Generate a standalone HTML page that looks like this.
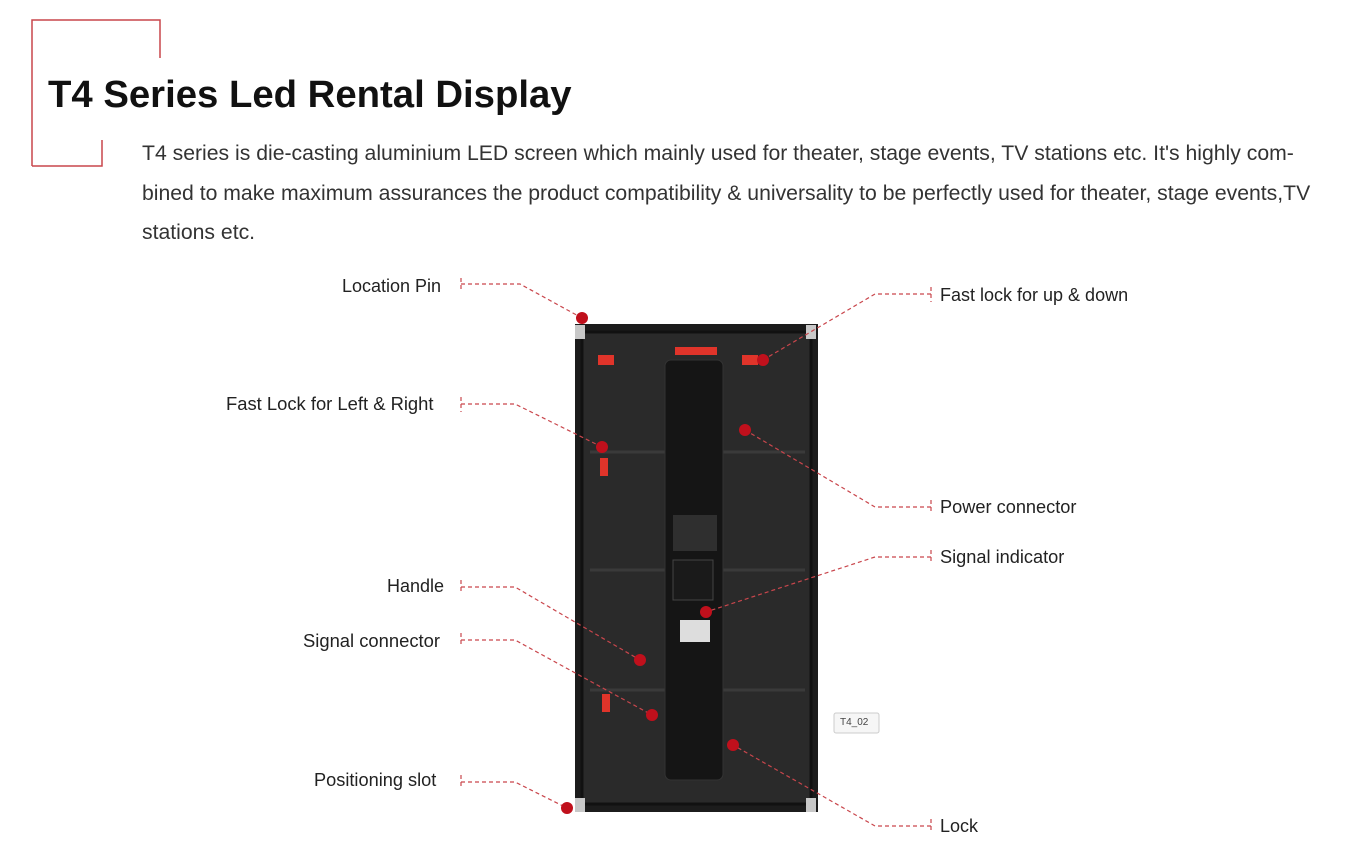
<!DOCTYPE html>
<html><head><meta charset="utf-8"><style>
body{margin:0;width:1368px;height:859px;background:#fff;overflow:hidden;position:relative;font-family:"Liberation Sans",sans-serif}
.t{position:absolute;white-space:nowrap;color:#222}
</style></head><body>
<svg width="1368" height="859" style="position:absolute;left:0;top:0">
<g stroke="#c9464c" stroke-width="1.5" fill="none">
<path d="M32 166 V20 H160 V58"/><path d="M32 166 H102 V140"/>
</g>
<rect x="575" y="324" width="243" height="488" fill="#1c1c1c"/>
<rect x="582" y="332" width="229" height="472" fill="#2a2a2a" stroke="#111" stroke-width="3"/>
<g stroke="#3a3a3a" stroke-width="3"><line x1="590" y1="452" x2="805" y2="452"/><line x1="590" y1="570" x2="805" y2="570"/><line x1="590" y1="690" x2="805" y2="690"/></g>
<rect x="665" y="360" width="58" height="420" rx="6" fill="#151515" stroke="#333"/>
<rect x="675" y="347" width="42" height="8" fill="#e0342a"/>
<rect x="673" y="515" width="44" height="36" fill="#2f2f2f"/>
<rect x="673" y="560" width="40" height="40" fill="#1a1a1a" stroke="#444"/>
<rect x="680" y="620" width="30" height="22" fill="#ddd"/>
<g fill="#e0342a"><rect x="598" y="355" width="16" height="10"/><rect x="742" y="355" width="16" height="10"/><rect x="600" y="458" width="8" height="18"/><rect x="602" y="694" width="8" height="18"/></g>
<g fill="#c8c8c8"><rect x="575" y="325" width="10" height="14"/><rect x="806" y="325" width="10" height="14"/><rect x="575" y="798" width="10" height="14"/><rect x="806" y="798" width="10" height="14"/></g>
<g stroke="#c9464c" stroke-width="1.2" fill="none" stroke-dasharray="4,3">
<path d="M461 278V292M461 284H520L582 318"/>
<path d="M931 287V302M931 294H875L763 360"/>
<path d="M461 397V412M461 404H515L602 447"/>
<path d="M931 500V514M931 507H875L745 430"/>
<path d="M931 550V564M931 557H875L706 612"/>
<path d="M461 580V594M461 587H515L640 660"/>
<path d="M461 633V647M461 640H515L652 715"/>
<path d="M461 775V789M461 782H515L567 808"/>
<path d="M931 819V833M931 826H875L733 745"/>
</g>
<g fill="#c0101c"><circle cx="582" cy="318" r="6"/><circle cx="763" cy="360" r="6"/><circle cx="602" cy="447" r="6"/><circle cx="745" cy="430" r="6"/><circle cx="706" cy="612" r="6"/><circle cx="640" cy="660" r="6"/><circle cx="652" cy="715" r="6"/><circle cx="567" cy="808" r="6"/><circle cx="733" cy="745" r="6"/></g>
<rect x="834" y="713" width="45" height="20" rx="2" fill="#f6f6f6" stroke="#ccc"/>
</svg>
<div class="t" style="left:48px;top:73px;font-size:38.3px;font-weight:bold;color:#111">T4 Series Led Rental Display</div>
<div class="t" style="left:142px;top:134px;font-size:21.2px;line-height:39.5px;color:#333;white-space:normal;width:1226px">T4 series is die-casting aluminium LED screen which mainly used for theater, stage events, TV stations etc. It's highly com-<br>bined to make maximum assurances the product compatibility &amp; universality to be perfectly used for theater, stage events,TV<br>stations etc.</div>
<div class="t" style="left:342px;top:276px;font-size:18px">Location Pin</div>
<div class="t" style="left:226px;top:393px;font-size:18.4px">Fast Lock for Left &amp; Right</div>
<div class="t" style="left:387px;top:576px;font-size:18px">Handle</div>
<div class="t" style="left:303px;top:630px;font-size:18.4px">Signal connector</div>
<div class="t" style="left:314px;top:770px;font-size:18.2px">Positioning slot</div>
<div class="t" style="left:940px;top:285px;font-size:18px">Fast lock for up &amp; down</div>
<div class="t" style="left:940px;top:497px;font-size:18.2px">Power connector</div>
<div class="t" style="left:940px;top:547px;font-size:18.2px">Signal indicator</div>
<div class="t" style="left:940px;top:816px;font-size:18px">Lock</div>
<div class="t" style="left:840px;top:717px;font-size:10px;color:#444">T4_02</div>
</body></html>
